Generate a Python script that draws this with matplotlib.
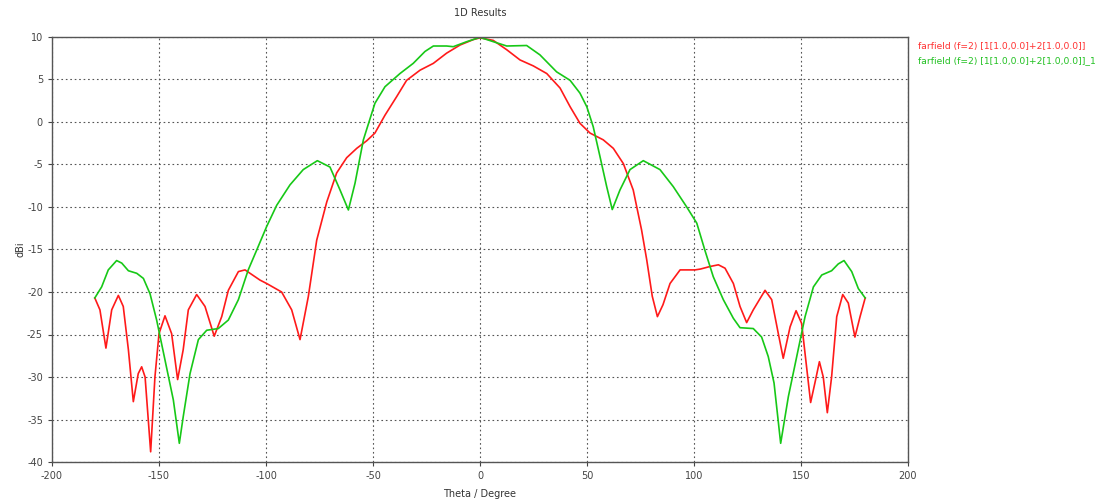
import matplotlib
matplotlib.use("Agg")
import matplotlib.pyplot as plt

plt.rcParams["axes.unicode_minus"] = False

# Farfield cut
theta_red = [-180, -177.6, -174.8, -172.1, -169.0, -166.7, -164.3, -162.0, -159.7, -158.1,
             -156.5, -153.9, -151.9, -150.0, -147.2, -144.1, -141.3, -138.7, -136.3, -132.4,
             -128.5, -124.2, -120.7, -117.6, -112.9, -109.8, -102.8, -99.7, -92.7, -88.0,
             -84.1, -80.2, -76.3, -71.6, -67.0, -62.3, -57.6, -52.9, -49.1, -44.4,
             -38.9, -34.3, -28.0, -21.8, -15.6, -9.3, -3.1, 0, 6.2, 12.5,
             18.7, 24.9, 31.2, 37.4, 42.1, 46.7, 51.4, 57.6, 62.3, 67.0,
             71.6, 75.5, 77.9, 80.5, 82.9, 85.5, 88.8, 93.5, 100.5, 103.0,
             107.5, 111.4, 114.5, 118.4, 121.5, 124.6, 127.7, 133.2, 136.3, 139.4,
             141.7, 144.9, 147.7, 150.3, 152.6, 154.5, 156.5, 158.6, 160.4, 162.3,
             164.3, 166.7, 169.5, 172.1, 175.2, 177.6, 180]
gain_red = [-20.7, -22.1, -26.6, -22.1, -20.4, -21.7, -26.8, -32.9, -29.6, -28.8,
            -30.0, -38.8, -30.0, -24.9, -22.8, -24.9, -30.3, -26.8, -22.1, -20.3,
            -21.7, -25.2, -22.9, -19.8, -17.6, -17.4, -18.6, -19.0, -20.0, -22.1,
            -25.6, -20.5, -13.9, -9.4, -6.0, -4.2, -3.1, -2.2, -1.3, 0.8,
            3.0, 4.9, 6.1, 6.9, 8.1, 9.06, 9.7, 9.9, 9.6, 8.5,
            7.3, 6.6, 5.7, 4.0, 1.8, -0.15, -1.3, -2.1, -3.1, -4.9,
            -8.0, -12.7, -16.2, -20.5, -22.9, -21.5, -19.0, -17.4, -17.4, -17.3,
            -17.0, -16.8, -17.2, -19.0, -21.7, -23.6, -22.1, -19.8, -20.9, -24.9,
            -27.8, -24.1, -22.2, -23.7, -28.8, -33.0, -30.7, -28.2, -30.0, -34.2,
            -30.0, -22.9, -20.3, -21.3, -25.3, -22.9, -20.7]

theta_green = [-180, -176.8, -173.7, -169.8, -167.4, -164.3, -160.4, -157.3, -154.2, -151.1,
               -147.2, -143.3, -140.5, -138.7, -135.5, -131.6, -127.7, -122.3, -117.6, -112.9,
               -108.3, -104.4, -99.7, -95.0, -88.8, -82.6, -76.0, -70.1, -65.4, -61.5,
               -58.4, -54.5, -53.0, -49.1, -44.4, -37.4, -31.2, -25.7, -21.8, -15.6,
               -12.5, -6.2, 0, 6.2, 12.5, 21.8, 28.0, 35.8, 42.1, 46.7,
               49.9, 52.9, 56.1, 59.2, 61.8, 65.4, 70.1, 76.3, 84.1, 90.3,
               96.6, 101.3, 105.1, 109.0, 113.7, 118.4, 121.5, 127.7, 131.6, 134.7,
               137.4, 140.5, 144.1, 148.0, 151.9, 155.8, 159.7, 164.3, 167.4, 170.1,
               173.7, 176.8, 180]
gain_green = [-20.7, -19.4, -17.4, -16.3, -16.6, -17.5, -17.8, -18.4, -20.2, -23.3,
              -28.0, -32.7, -37.8, -34.7, -29.6, -25.6, -24.5, -24.3, -23.3, -20.9,
              -17.4, -15.1, -12.3, -9.8, -7.4, -5.6, -4.55, -5.3, -8.0, -10.35,
              -7.2, -2.1, -0.9, 2.2, 4.15, 5.7, 6.9, 8.3, 8.94, 8.94,
              8.86, 9.45, 9.96, 9.45, 8.94, 9.0, 7.9, 5.9, 4.9, 3.4,
              1.8, -0.55, -4.1, -7.6, -10.3, -8.0, -5.6, -4.55, -5.6, -7.6,
              -10.0, -11.9, -15.1, -18.2, -20.9, -23.1, -24.2, -24.3, -25.3, -27.6,
              -30.7, -37.8, -32.3, -27.6, -22.9, -19.4, -18.0, -17.5, -16.7, -16.3,
              -17.6, -19.6, -20.7]

label_red = "farfield (f=2) [1[1.0,0.0]+2[1.0,0.0]]"
label_green = "farfield (f=2) [1[1.0,0.0]+2[1.0,0.0]]_1"

fig = plt.figure(figsize=(11.09, 5.03), dpi=100)
ax = fig.add_axes([52 / 1109, 1 - 462 / 503, 856 / 1109, 425 / 503])

ax.plot(theta_red, gain_red, color="#ff1a1a", linewidth=1.2)
ax.plot(theta_green, gain_green, color="#17c817", linewidth=1.2)

ax.set_xlim(-200, 200)
ax.set_ylim(-40, 10)
ax.set_xticks(range(-200, 201, 50))
ax.set_yticks(range(-40, 11, 5))
ax.grid(True, color="#555555", linestyle=(0, (1.5, 2.5)), linewidth=0.8)
ax.tick_params(labelsize=7, colors="#444444", length=3, width=0.8)
for s in ax.spines.values():
    s.set_color("#555555")
    s.set_linewidth(1)

ax.set_xlabel("Theta / Degree", fontsize=7, color="#333333", labelpad=6)
ax.set_ylabel("dBi", fontsize=7, color="#333333", labelpad=1)
ax.set_title("1D Results", fontsize=7, color="#333333", pad=15)

fig.text(918 / 1109, 1 - 46 / 503, label_red, color="#ff3030", fontsize=6.6, va="center")
fig.text(918 / 1109, 1 - 61 / 503, label_green, color="#20c020", fontsize=6.6, va="center")

fig.savefig("out.png", dpi=100)
